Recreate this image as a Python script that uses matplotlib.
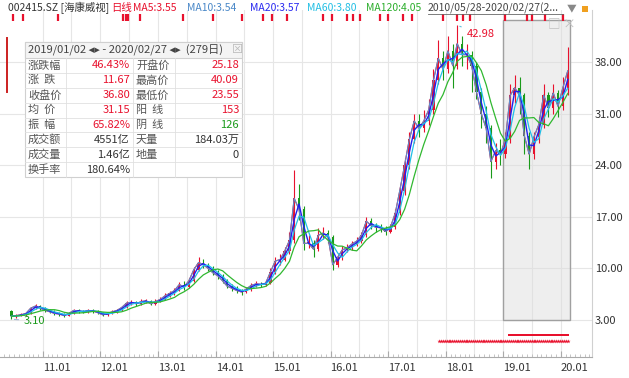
import matplotlib
matplotlib.use('Agg')
import matplotlib.pyplot as plt
import matplotlib.dates as mdates
from matplotlib.patches import Rectangle
from matplotlib.lines import Line2D
import numpy as np
import pandas as pd

plt.rcParams['font.family'] = ['Noto Sans CJK SC', 'DejaVu Sans']

# monthly bars, 2010-06 .. 2020-02
close = [3.5, 3.6, 3.7, 3.9, 4.6, 4.9, 4.6, 4.3, 4.1, 3.9,
         3.8, 3.6, 3.9, 4.3, 4.2, 4.1, 4.3, 4.2, 4.0, 3.7,
         3.9, 4.1, 4.3, 4.7, 5.3, 5.4, 5.2, 5.5, 5.6, 5.2,
         5.5, 5.8, 6.3, 6.6, 7.0, 7.8, 7.5, 8.3, 9.8, 10.8,
         10.5, 10.0, 9.4, 9.0, 8.3, 7.6, 7.3, 7.0, 6.8, 7.2,
         7.7, 7.9, 7.8, 8.0, 9.5, 11.0, 11.2, 12.3, 13.8, 19.5,
         18.0, 13.4, 13.4, 12.6, 14.5, 14.8, 14.3, 10.5, 11.5, 12.5,
         12.8, 13.3, 13.7, 14.5, 16.4, 15.8, 15.6, 15.5, 15.0, 15.6,
         17.5, 20.5, 24.0, 27.5, 30.0, 29.0, 30.0, 31.5, 35.5, 38.5,
         37.0, 39.5, 37.5, 40.5, 39.0, 39.0, 37.5, 34.0, 31.0, 29.0,
         24.5, 26.0, 25.5, 27.5, 33.5, 34.5, 33.5, 28.0, 25.5, 27.8,
         29.5, 33.5, 31.8, 33.8, 32.0, 34.5, 36.8]
high = [4.3, 3.8, 3.9, 4.1, 4.8, 5.2, 5.0, 4.7, 4.5, 4.3,
        4.1, 3.9, 4.1, 4.5, 4.5, 4.4, 4.5, 4.5, 4.3, 4.1,
        4.1, 4.3, 4.5, 4.9, 5.6, 5.7, 5.6, 5.8, 5.9, 5.7,
        5.8, 6.1, 6.6, 7.0, 7.4, 8.2, 8.3, 8.7, 10.2, 11.5,
        11.3, 10.8, 10.3, 9.8, 9.3, 8.5, 7.9, 7.6, 7.2, 7.5,
        8.0, 8.3, 8.2, 8.4, 10.0, 11.6, 12.0, 12.9, 15.0, 23.4,
        21.5, 18.5, 14.5, 13.8, 15.5, 15.6, 15.2, 14.5, 12.0, 13.0,
        13.3, 13.7, 14.2, 15.0, 17.0, 16.8, 16.2, 16.0, 15.8, 16.0,
        18.0, 21.0, 25.0, 28.5, 31.0, 31.0, 31.5, 33.0, 37.0, 41.0,
        39.5, 41.5, 40.5, 42.98, 41.5, 40.5, 39.5, 38.0, 34.5, 32.0,
        29.5, 27.0, 27.5, 28.5, 35.0, 36.2, 36.0, 33.8, 28.5, 28.5,
        30.5, 35.0, 34.0, 35.0, 34.2, 36.0, 40.09]
low = [3.10, 3.3, 3.5, 3.6, 3.8, 4.5, 4.4, 4.1, 3.9, 3.7,
       3.6, 3.4, 3.5, 3.8, 4.0, 3.9, 4.0, 4.0, 3.8, 3.5,
       3.6, 3.8, 4.0, 4.2, 4.6, 5.1, 4.9, 5.0, 5.3, 5.0,
       5.1, 5.4, 5.7, 6.1, 6.4, 6.9, 7.1, 7.3, 8.1, 9.6,
       10.0, 9.6, 9.1, 8.6, 8.0, 7.3, 7.0, 6.7, 6.4, 6.6,
       7.0, 7.5, 7.5, 7.6, 7.9, 9.3, 10.5, 11.0, 12.0, 13.5,
       16.5, 12.5, 12.8, 11.5, 12.4, 14.0, 13.5, 9.8, 10.2, 11.2,
       12.2, 12.5, 13.0, 13.5, 14.3, 15.3, 15.0, 15.0, 14.6, 14.8,
       15.4, 17.3, 20.0, 23.5, 27.0, 27.8, 28.5, 29.5, 31.0, 35.0,
       35.5, 36.5, 34.5, 37.0, 37.5, 37.0, 34.0, 33.0, 29.0, 27.0,
       22.3, 23.5, 24.0, 25.0, 27.0, 32.5, 31.0, 25.5, 23.55, 24.8,
       27.0, 29.0, 30.5, 31.0, 30.5, 31.5, 33.5]
first_open = 4.2

event_dates = ['2010-06-25', '2010-08-27', '2011-04-06', '2012-05-23', '2012-06-11',
               '2012-06-24', '2012-09-08', '2013-06-08', '2013-12-16', '2014-06-18',
               '2014-10-29', '2014-12-25', '2015-03-30', '2015-11-14', '2016-01-10',
               '2016-04-14', '2016-05-22', '2016-07-06', '2016-11-10', '2016-12-31',
               '2017-04-05', '2017-06-01', '2017-12-15', '2018-03-14', '2018-04-21',
               '2018-06-04', '2019-01-13', '2019-06-01', '2019-07-03', '2019-09-24',
               '2020-01-16']

year_ticks = ['2011-01-01', '2012-01-01', '2013-01-01', '2014-01-01', '2015-01-01',
              '2016-01-01', '2017-01-01', '2018-01-01', '2019-01-01', '2020-01-01']
year_labels = ['11.01', '12.01', '13.01', '14.01', '15.01',
               '16.01', '17.01', '18.01', '19.01', '20.01']
price_ticks = [3, 10, 17, 24, 31, 38]

table_lab1 = ['涨跌幅', '涨  跌', '收盘价', '均  价', '振  幅', '成交额', '成交量', '换手率']
table_val1 = ['46.43%', '11.67', '36.80', '31.15', '65.82%', '4551亿', '1.46亿', '180.64%']
table_lab2 = ['开盘价', '最高价', '最低价', '阳  线', '阴  线', '天量', '地量', '']
table_val2 = ['25.18', '40.09', '23.55', '153', '126', '184.03万', '0', '']

RED = '#e8112d'
GREEN = '#1a9a1a'
W, H = 629, 378

months = pd.date_range('2010-06-01', periods=len(close), freq='MS') + pd.Timedelta(days=14)
x = mdates.date2num(months)
c = np.array(close)
o = np.array([first_open] + close[:-1])
s = pd.Series(close)

fig = plt.figure(figsize=(6.29, 3.78), dpi=100)
ax = fig.add_axes([0, 21 / H, 592 / W, 347 / H])
ax.set_xlim(mdates.datestr2num('2010-04-03'), mdates.datestr2num('2020-07-18'))
ax.set_ylim(-2.02, 45.06)

# grid
for p in price_ticks:
    ax.axhline(p, color='#e6e6e6', lw=0.8, zorder=0)
for d in pd.date_range('2011-01-01', '2020-01-01', freq='6MS'):
    ax.axvline(mdates.date2num(d), color='#e6e6e6', lw=0.8, zorder=0)

# selected range box
d0 = mdates.datestr2num('2019-01-02')
d1 = mdates.datestr2num('2020-02-27')
ax.add_patch(Rectangle((d0, 3.0), d1 - d0, 40.7, facecolor=(0.87, 0.87, 0.87, 0.5),
                       edgecolor='#a0a0a0', lw=1, zorder=1))
fig.text(548 / W, 1 - 24 / H, '□ ×', color='#c0c0c0', fontsize=9, va='center')

# candles
cols = [RED if ci >= oi else GREEN for ci, oi in zip(c, o)]
ax.vlines(x, low, high, colors=cols, lw=0.8, zorder=3)
body = np.maximum(np.abs(c - o), 0.15)
ax.bar(x, body, bottom=np.minimum(c, o), width=15, color=cols, zorder=3)

# moving averages
ax.plot(x, s, color=RED, lw=0.8, zorder=4)
ax.plot(x, s, color='#5a8fd0', lw=0.8, zorder=4)
ax.plot(x, s.rolling(2, min_periods=1).mean(), color='#2020f0', lw=1.0, zorder=4)
ax.plot(x, s.rolling(3, min_periods=1).mean(), color='#20c0e8', lw=0.9, zorder=4)
ax.plot(x, s.rolling(6, min_periods=1).mean(), color='#30b830', lw=0.9, zorder=4)

# max / min labels
imax = int(np.argmax(high))
imin = int(np.argmin(low))
ax.annotate('42.98', xy=(x[imax], high[imax]), xytext=(x[imax] + 60, 41.8),
            color=RED, fontsize=8, va='center',
            arrowprops=dict(arrowstyle='-', color='#60c0e0', lw=0.8))
ax.annotate('3.10', xy=(x[imin], low[imin]), xytext=(x[imin] + 80, 2.9),
            color=GREEN, fontsize=8, va='center',
            arrowprops=dict(arrowstyle='-', color='#a0b8d8', lw=0.8))

# event markers along the top
ev = mdates.datestr2num(event_dates)
ax.vlines(ev, 43.5, 44.5, color=RED, lw=1.6, zorder=5)

# star markers at the bottom
stars1 = mdates.date2num(pd.date_range('2017-11-20', '2020-02-20', freq='12D'))
stars2 = mdates.date2num(pd.date_range('2019-02-10', '2020-02-20', freq='10D'))
ax.scatter(stars1, np.full(len(stars1), 0.15), marker='*', s=10, color=RED, lw=0, zorder=5)
ax.scatter(stars2, np.full(len(stars2), 0.95), marker='s', s=4, color=RED, lw=0, zorder=5)

# axes
ax.set_yticks(price_ticks)
ax.set_yticklabels(['%.2f' % p for p in price_ticks])
ax.yaxis.tick_right()
ax.tick_params(axis='y', length=0, pad=2, labelsize=8, labelcolor='#333333')
ax.set_xticks(mdates.datestr2num(year_ticks))
ax.set_xticklabels(year_labels, ha='left')
ax.xaxis.set_minor_locator(mdates.MonthLocator())
ax.tick_params(axis='x', which='major', direction='in', length=4, color='#aaaaaa',
               labelsize=8, labelcolor='#333333', pad=4)
ax.tick_params(axis='x', which='minor', direction='in', length=2.5, color='#bbbbbb')
for sp in ['left', 'top']:
    ax.spines[sp].set_visible(False)
ax.spines['bottom'].set_color('#aaaaaa')
ax.spines['right'].set_color('#d0d0d0')

# left red scroll bar
fig.add_artist(Line2D([7 / W, 7 / W], [1 - 38 / H, 1 - 92 / H], color='#cc2020', lw=1.4))

# header line
header = [(8, '002415.SZ [海康威视]', '#333333'), (111, '日线', RED), (133, 'MA5:3.55', RED),
          (187, 'MA10:3.54', '#4a88c8'), (250, 'MA20:3.57', '#2a2af0'),
          (307, 'MA60:3.80', '#22bfe4'), (366, 'MA120:4.05', '#2cae2c')]
for hx, txt, col in header:
    fig.text(hx / W, 1 - 8 / H, txt, color=col, fontsize=7.5, va='center')
fig.text(428 / W, 1 - 8 / H, '2010/05/28-2020/02/27(2...', color='#444444', fontsize=7.5,
         va='center')
fig.add_artist(Line2D([428 / W, 563 / W], [1 - 14 / H, 1 - 14 / H], color='#666666', lw=0.6))
fig.text(567 / W, 1 - 8 / H, '▼', color='#888888', fontsize=7, va='center')
fig.add_artist(Rectangle((582 / W, 1 - 12 / H), 6 / W, 6 / H, facecolor='#f0a020',
                         edgecolor='none'))

# info table
tx0, tx1, ty0, ty1 = 25, 242, 42, 177
colx = [25, 66, 133, 175, 242]
rh = (ty1 - 58) / 8
fig.add_artist(Rectangle((tx0 / W, 1 - ty1 / H), (tx1 - tx0) / W, (ty1 - ty0) / H,
                         facecolor='white', edgecolor='#d0d0d0', lw=0.8))
fig.add_artist(Rectangle((tx0 / W, 1 - 58 / H), (tx1 - tx0) / W, 16 / H,
                         facecolor='#f4f4f4', edgecolor='#d0d0d0', lw=0.8))
for i in range(1, 8):
    yy = 58 + i * rh
    fig.add_artist(Line2D([tx0 / W, tx1 / W], [1 - yy / H, 1 - yy / H], color='#e0e0e0', lw=0.6))
for cx in colx[1:4]:
    fig.add_artist(Line2D([cx / W, cx / W], [1 - 58 / H, 1 - ty1 / H], color='#e0e0e0', lw=0.6))
fig.text(28 / W, 1 - 50 / H, '2019/01/02 ◂▸ - 2020/02/27 ◂▸  (279日)', color='#444444',
         fontsize=8, va='center')
fig.text(232 / W, 1 - 50 / H, '⊠', color='#bbbbbb', fontsize=8, va='center')
for i in range(8):
    yy = 1 - (58 + (i + 0.5) * rh) / H
    fig.text(28 / W, yy, table_lab1[i], color='#555555', fontsize=8, va='center')
    fig.text(130 / W, yy, table_val1[i], color=RED if i < 5 else '#333333', fontsize=8,
             va='center', ha='right')
    fig.text(136 / W, yy, table_lab2[i], color='#555555', fontsize=8, va='center')
    col2 = RED if i < 4 else (GREEN if i == 4 else '#333333')
    fig.text(239 / W, yy, table_val2[i], color=col2, fontsize=8, va='center', ha='right')

fig.savefig('out.png', dpi=100)
